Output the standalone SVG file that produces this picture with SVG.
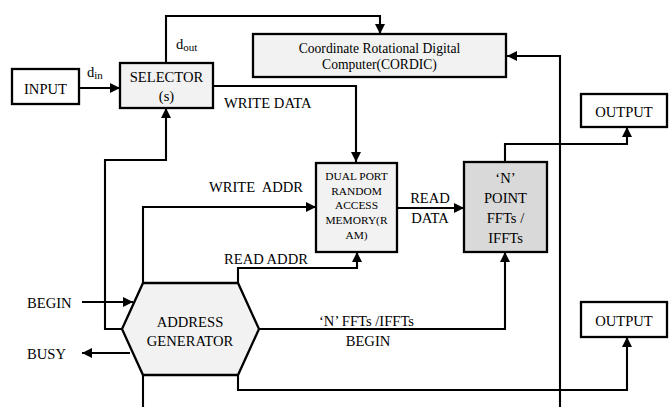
<svg xmlns="http://www.w3.org/2000/svg" width="670" height="407" viewBox="0 0 670 407" font-family="'Liberation Serif', 'Times New Roman', Times, serif">
  <style>
    .box { fill: #f2f2f2; stroke: #000; stroke-width: 2.3; }
    .plain { fill: #fff; stroke: #000; stroke-width: 2.3; }
    .dark { fill: #d9d9d9; stroke: #000; stroke-width: 2.3; }
    .wire { fill: none; stroke: #000; stroke-width: 2.1; }
    text { fill: #000; font-family: "Liberation Serif", "Times New Roman", Times, serif; }
    .t { font-size: 14.6px; }
    .c { text-anchor: middle; }
    .s { font-size: 13.6px; }
    .m { font-size: 11.4px; }
    .sub { font-size: 11px; }
  </style>
  <defs>
    <marker id="arrow" viewBox="0 0 10 10" refX="10" refY="5" markerWidth="10" markerHeight="11" markerUnits="userSpaceOnUse" orient="auto">
      <path d="M0,0 L10,5 L0,10 z" fill="#000"/>
    </marker>
  </defs>

  <!-- connectors -->
  <g id="connectors">
    <!-- input to selector -->
    <path class="wire" d="M79,88 H120" marker-end="url(#arrow)"/>
    <!-- selector output to CORDIC -->
    <path class="wire" d="M166,63 V16 H380 V34" marker-end="url(#arrow)"/>
    <!-- write data -->
    <path class="wire" d="M213,86 H356 V162" marker-end="url(#arrow)"/>
    <!-- selector control from address generator -->
    <path class="wire" d="M122,329 H105 V160 H166 V108" marker-end="url(#arrow)"/>
    <!-- write address -->
    <path class="wire" d="M143,283 V207 H316" marker-end="url(#arrow)"/>
    <!-- read address -->
    <path class="wire" d="M238,283 V268 H357 V252" marker-end="url(#arrow)"/>
    <!-- read data -->
    <path class="wire" d="M397,208 H464" marker-end="url(#arrow)"/>
    <!-- FFT output -->
    <path class="wire" d="M505,162 V144 H627 V127" marker-end="url(#arrow)"/>
    <!-- feedback into CORDIC -->
    <path class="wire" d="M560,407 V56 H507" marker-end="url(#arrow)"/>
    <!-- begin / busy -->
    <path class="wire" d="M82,302 H133" marker-end="url(#arrow)"/>
    <path class="wire" d="M130,353 H82" marker-end="url(#arrow)"/>
    <!-- FFT begin -->
    <path class="wire" d="M259,329 H505 V252" marker-end="url(#arrow)"/>
    <!-- lower output -->
    <path class="wire" d="M238,375 V390 H627 V337" marker-end="url(#arrow)"/>
    <path class="wire" d="M143,375 V407"/>
  </g>

  <!-- connector labels -->
  <g id="labels">
    <text class="t" x="87" y="77">d<tspan class="sub" dy="2">in</tspan></text>
    <text class="t" x="176" y="49">d<tspan class="sub" dy="2">out</tspan></text>
    <text class="t" x="224" y="108">WRITE DATA</text>
    <text class="t" x="209" y="192" xml:space="preserve">WRITE  ADDR</text>
    <text class="t" x="224" y="264">READ ADDR</text>
    <text class="t c" x="430" y="203">READ</text>
    <text class="t c" x="430" y="223">DATA</text>
    <text class="t" x="27" y="308">BEGIN</text>
    <text class="t" x="27" y="359">BUSY</text>
    <text class="t" x="319" y="326">‘N’ FFTs /IFFTs</text>
    <text class="t c" x="368" y="346">BEGIN</text>
  </g>

  <g id="input">
    <rect class="plain" x="12" y="69" width="67" height="35"/>
    <text class="t c" x="45.5" y="93.5">INPUT</text>
  </g>

  <g id="selector">
    <rect class="box" x="120" y="63" width="93" height="45"/>
    <text class="t c" x="166.5" y="82">SELECTOR</text>
    <text class="t c" x="166.5" y="101">(s)</text>
  </g>

  <g id="cordic">
    <rect class="box" x="253" y="34" width="253" height="43"/>
    <text class="s c" x="379.5" y="53">Coordinate Rotational Digital</text>
    <text class="s c" x="379.5" y="69">Computer(CORDIC)</text>
  </g>

  <g id="dpram">
    <rect class="box" x="316" y="163" width="81" height="89"/>
    <text class="m c" x="356.5" y="180">DUAL PORT</text>
    <text class="m c" x="356.5" y="195">RANDOM</text>
    <text class="m c" x="356.5" y="209">ACCESS</text>
    <text class="m c" x="356.5" y="224">MEMORY(R</text>
    <text class="m c" x="356.5" y="239">AM)</text>
  </g>

  <g id="fft">
    <rect class="dark" x="464" y="162" width="83" height="90"/>
    <text class="t c" x="505.5" y="183">‘N’</text>
    <text class="t c" x="505.5" y="203">POINT</text>
    <text class="t c" x="505.5" y="223">FFTs /</text>
    <text class="t c" x="505.5" y="243">IFFTs</text>
  </g>

  <g id="output-top">
    <rect class="plain" x="581" y="94" width="86" height="33"/>
    <text class="t c" x="624" y="117">OUTPUT</text>
  </g>

  <g id="output-bottom">
    <rect class="plain" x="581" y="302" width="86" height="35"/>
    <text class="t c" x="624" y="326">OUTPUT</text>
  </g>

  <g id="address-generator">
    <polygon class="box" points="143,283 238,283 259,329 238,375 143,375 122,329"/>
    <text class="t c" x="190" y="327">ADDRESS</text>
    <text class="t c" x="190" y="346">GENERATOR</text>
  </g>
</svg>
